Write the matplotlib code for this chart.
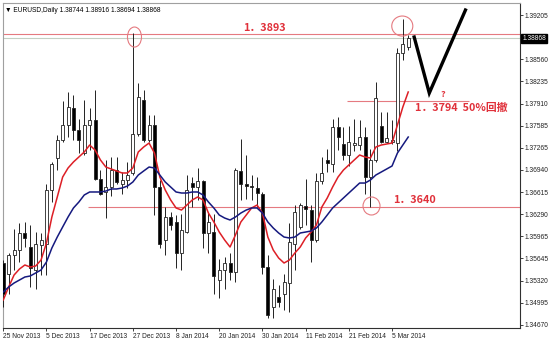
import matplotlib
matplotlib.use('Agg')
import matplotlib.pyplot as plt
import matplotlib.transforms as mtransforms
from matplotlib.patches import Ellipse

plt.rcParams['font.family'] = ['Liberation Sans', 'DejaVu Sans']

# EURUSD daily bars, 25 Nov 2013 .. 10 Mar 2014
opens = [1.3557, 1.3542, 1.3569, 1.3577, 1.3601, 1.3581, 1.3547, 1.3584, 1.3586, 1.3664,
         1.3711, 1.3738, 1.3760, 1.3784, 1.3752, 1.3718, 1.3760, 1.3767, 1.3681, 1.3662,
         1.3669, 1.3694, 1.3674, 1.3679, 1.3689, 1.3747, 1.3796, 1.3738, 1.3760, 1.3669,
         1.3591, 1.3625, 1.3618, 1.3572, 1.3603, 1.3675, 1.3669, 1.3677, 1.3601, 1.3603,
         1.3533, 1.3547, 1.3557, 1.3545, 1.3693, 1.3674, 1.3671, 1.3668, 1.3659, 1.3552,
         1.3494, 1.3508, 1.3513, 1.3528, 1.3586, 1.3611, 1.3641, 1.3635, 1.3591, 1.3677,
         1.3708, 1.3703, 1.3757, 1.3732, 1.3716, 1.3731, 1.3730, 1.3742, 1.3684, 1.3708,
         1.3758, 1.3735, 1.3735, 1.3733, 1.3865, 1.38744]
highs = [1.3562, 1.3572, 1.3608, 1.3616, 1.3618, 1.3613, 1.3603, 1.3602, 1.3674, 1.3706,
         1.3745, 1.3794, 1.3808, 1.3804, 1.3769, 1.3796, 1.3784, 1.3811, 1.3694, 1.3708,
         1.3713, 1.3713, 1.3691, 1.3706, 1.3894, 1.3821, 1.3811, 1.3774, 1.3774, 1.3679,
         1.3640, 1.3633, 1.3628, 1.3630, 1.3686, 1.3684, 1.3696, 1.3679, 1.3633, 1.3630,
         1.3564, 1.3567, 1.3572, 1.3696, 1.3739, 1.3716, 1.3686, 1.3684, 1.3662, 1.3569,
         1.3535, 1.3525, 1.3542, 1.3616, 1.3642, 1.3645, 1.3681, 1.3642, 1.3689, 1.3713,
         1.3725, 1.3769, 1.3772, 1.3757, 1.3758, 1.3769, 1.3767, 1.3757, 1.3725, 1.3823,
         1.3779, 1.3779, 1.3767, 1.3872, 1.3915, 1.38916]
lows = [1.3494, 1.3513, 1.3547, 1.3559, 1.3581, 1.3523, 1.3520, 1.3540, 1.3540, 1.3647,
        1.3694, 1.3735, 1.3742, 1.3738, 1.3718, 1.3716, 1.3723, 1.3679, 1.3657, 1.3623,
        1.3655, 1.3674, 1.3659, 1.3667, 1.3686, 1.3743, 1.3735, 1.3735, 1.3628, 1.3579,
        1.3569, 1.3606, 1.3550, 1.3547, 1.3601, 1.3640, 1.3650, 1.3579, 1.3572, 1.3513,
        1.3506, 1.3520, 1.3533, 1.3530, 1.3650, 1.3652, 1.3650, 1.3640, 1.3542, 1.3477,
        1.3477, 1.3494, 1.3489, 1.3486, 1.3547, 1.3608, 1.3613, 1.3559, 1.3589, 1.3674,
        1.3691, 1.3691, 1.3723, 1.3708, 1.3699, 1.3721, 1.3723, 1.3659, 1.3640, 1.3706,
        1.3733, 1.3733, 1.3732, 1.3721, 1.3855, 1.38694]
closes = [1.3513, 1.3569, 1.3577, 1.3601, 1.3594, 1.3550, 1.3586, 1.3591, 1.3664, 1.3703,
          1.3738, 1.3760, 1.3786, 1.3752, 1.3738, 1.3760, 1.3767, 1.3681, 1.3659, 1.3669,
          1.3694, 1.3676, 1.3679, 1.3686, 1.3747, 1.3801, 1.3738, 1.3760, 1.3669, 1.3586,
          1.3625, 1.3613, 1.3572, 1.3606, 1.3664, 1.3669, 1.3677, 1.3601, 1.3618, 1.3538,
          1.3547, 1.3558, 1.3545, 1.3694, 1.3673, 1.3670, 1.3669, 1.3660, 1.3552, 1.3482,
          1.3520, 1.3501, 1.3530, 1.3589, 1.3633, 1.3642, 1.3636, 1.3591, 1.3677, 1.3690,
          1.3704, 1.3757, 1.3742, 1.3716, 1.3735, 1.3733, 1.3742, 1.3684, 1.3708, 1.3799,
          1.3735, 1.3740, 1.3738, 1.3865, 1.3878, 1.38868]

# moving averages as drawn on the chart
ma_fast = [1.35036, 1.35226, 1.35401, 1.35489, 1.35548, 1.35518, 1.35533, 1.35621, 1.35870, 1.36250,
           1.36543, 1.36835, 1.36967, 1.37055, 1.37128, 1.37201, 1.37303, 1.37230, 1.37084, 1.36981,
           1.36952, 1.36923, 1.36894, 1.36894, 1.36967, 1.37201, 1.37274, 1.37332, 1.37186, 1.36835,
           1.36645, 1.36499, 1.36382, 1.36352, 1.36425, 1.36499, 1.36543, 1.36499, 1.36308, 1.36177,
           1.36030, 1.35913, 1.35811, 1.35987, 1.36177, 1.36279, 1.36382, 1.36425, 1.36308, 1.35957,
           1.35767, 1.35650, 1.35577, 1.35621, 1.35723, 1.35811, 1.35943, 1.36030, 1.36133, 1.36396,
           1.36528, 1.36689, 1.36835, 1.36937, 1.37011, 1.37084, 1.37157, 1.37128, 1.37113, 1.37274,
           1.37303, 1.37318, 1.37332, 1.37596, 1.37859, 1.38079]
ma_slow = [1.35153, 1.35226, 1.35284, 1.35328, 1.35372, 1.35387, 1.35431, 1.35475, 1.35592, 1.35796,
           1.35957, 1.36104, 1.36250, 1.36382, 1.36469, 1.36572, 1.36616, 1.36616, 1.36616, 1.36630,
           1.36660, 1.36660, 1.36674, 1.36703, 1.36762, 1.36864, 1.36923, 1.36981, 1.36967, 1.36864,
           1.36762, 1.36689, 1.36616, 1.36601, 1.36601, 1.36616, 1.36616, 1.36572, 1.36469, 1.36382,
           1.36279, 1.36235, 1.36206, 1.36250, 1.36308, 1.36352, 1.36382, 1.36382, 1.36308, 1.36177,
           1.36089, 1.36016, 1.35957, 1.35943, 1.35957, 1.36016, 1.36030, 1.36045, 1.36089, 1.36177,
           1.36279, 1.36382, 1.36455, 1.36528, 1.36601, 1.36674, 1.36747, 1.36747, 1.36791, 1.36864,
           1.36908, 1.36952, 1.36996, 1.37186, 1.37303, 1.37420]

date_labels = ['25 Nov 2013', '5 Dec 2013', '17 Dec 2013', '27 Dec 2013', '8 Jan 2014',
               '20 Jan 2014', '30 Jan 2014', '11 Feb 2014', '21 Feb 2014', '5 Mar 2014']
price_ticks = [1.39205, 1.38560, 1.38235, 1.37910, 1.37585, 1.37265, 1.36940, 1.36615,
               1.36290, 1.35965, 1.35645, 1.35320, 1.34995, 1.34670]
last_price = 1.38868
header = '\u25bc EURUSD,Daily 1.38744 1.38916 1.38694 1.38868'

resistance = 1.3893
support = 1.3640
retrace = 1.3794

RED = '#e0303a'
LINE_RED = '#e57a80'

fig = plt.figure(figsize=(5.5, 3.42), dpi=100)
ax = fig.add_axes([3 / 550, 14 / 342, 517 / 550, 325 / 342])
n = len(closes)
xs = list(range(n))

# candles
ax.vlines(xs, lows, highs, color='#222222', linewidth=0.7, zorder=3)
for i in xs:
    o, c = opens[i], closes[i]
    bottom = min(o, c)
    h = max(abs(c - o), 0.00012)
    ax.bar(i, h, bottom=bottom, width=0.55, color='white' if c >= o else 'black',
           edgecolor='#222222', linewidth=0.6, zorder=4)

ax.plot(xs, ma_fast, color='#dd1f26', linewidth=1.1, zorder=5)
ax.plot(xs, ma_slow, color='#15197f', linewidth=1.1, zorder=5)

# levels
ax.axhline(last_price, color='#c3cfc3', linewidth=0.8, zorder=1)
ax.axhline(resistance, color=LINE_RED, linewidth=0.8, zorder=2)
ax.hlines(support, 15.6, 96, color=LINE_RED, linewidth=0.8, zorder=2)
ax.hlines(retrace, 63.7, 86.3, color=LINE_RED, linewidth=0.8, zorder=2)

for cx, cy, w, h in [(24.3, 1.38883, 2.6, 0.00293), (73.9, 1.39044, 3.9, 0.00293),
                     (68.2, 1.36411, 3.15, 0.00263)]:
    ax.add_patch(Ellipse((cx, cy), w, h, fill=False, edgecolor=LINE_RED, linewidth=0.8, zorder=6))

ax.plot([76.1, 78.9, 85.6], [1.38883, 1.38064, 1.39278], color='black', linewidth=2.4,
        solid_joinstyle='miter', zorder=7)

cjk = ['Noto Sans CJK SC', 'DejaVu Sans']
ax.text(44.4, resistance + 0.0001, '1\uff0e3893', color=RED, fontsize=7.8, fontweight='bold',
        family=cjk, ha='left', va='bottom')
ax.text(72.2, support + 0.0002, '1\uff0e3640', color=RED, fontsize=7.8, fontweight='bold',
        family=cjk, ha='left', va='bottom')
ax.text(81.5, retrace + 0.0003, '?', color=RED, fontsize=6.5, fontweight='bold',
        family=cjk, ha='center', va='bottom')
ax.text(76.3, retrace - 0.0002, '1\uff0e3794  50%回撤', color=RED, fontsize=7.8, fontweight='bold',
        family=cjk, ha='left', va='top')

ax.set_xlim(-0.05, 95.7)
ax.set_ylim(1.34626, 1.39381)

ax.yaxis.tick_right()
ax.set_yticks(price_ticks)
ax.set_yticklabels(['%.5f' % p for p in price_ticks])
ax.set_xticks(list(range(0, 8 * len(date_labels), 8)))
ax.set_xticklabels(date_labels)
for lab in ax.get_xticklabels():
    lab.set_ha('left')
ax.tick_params(axis='both', length=2, width=0.6, pad=1.5, labelsize=4.8, colors='#222222')

trans = mtransforms.blended_transform_factory(ax.transAxes, ax.transData)
ax.text(1.004, last_price, '1.38868', transform=trans, fontsize=4.8, color='white',
        ha='left', va='center', bbox=dict(boxstyle='square,pad=0.15', fc='black', ec='black'))

ax.text(0.004, 0.988, header, transform=ax.transAxes, fontsize=4.8, color='black',
        ha='left', va='top')

for side in ('left', 'top'):
    ax.spines[side].set_color('#a0a0a0')
for side in ('right', 'bottom'):
    ax.spines[side].set_color('#303030')
    ax.spines[side].set_linewidth(0.8)

fig.savefig('out.png', dpi=100)
